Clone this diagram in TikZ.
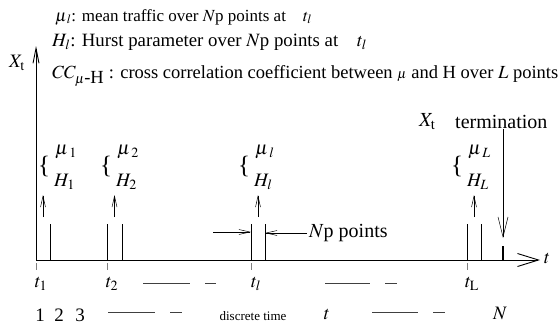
\documentclass[tikz,border=0pt]{standalone}
\usepackage{mathptmx}
\usepackage{fontspec}
\setmainfont{Liberation Serif}
\usetikzlibrary{arrows.meta}

\begin{document}
\begin{tikzpicture}[x=1pt,y=-1pt,
		txt/.style={font=\fontsize{19}{21}\selectfont, inner sep=0pt},
		smalltxt/.style={font=\fontsize{13}{15}\selectfont, inner sep=0pt},
		bigtxt/.style={font=\fontsize{20}{22}\selectfont, inner sep=0pt},
		bar/.style={line width=0.9pt},
		tickmark/.style={gray, line width=0.5pt},
		dashrule/.style={black!75, line width=0.8pt},
		barb/.style={-{Straight Barb[length=11pt,width=5pt]}, line width=0.5pt},
		axis/.style={-{Straight Barb[length=21pt,width=13pt]}, line width=0.9pt}]
	\useasboundingbox (0,0) rectangle (559,324);
	
	% Achsen
	\coordinate (o) at (36,260);
	\coordinate (xend) at (540,260);
	\coordinate (yend) at (36,46);
	\draw[axis] (o) -- (xend);
	\draw[-{Straight Barb[length=15pt,width=6pt]}, line width=0.9pt] (o) -- (yend);
	\node[txt, anchor=west] (tlab) at (544,258) {$t$};
	\node[txt] (xt) at (17,63) {$X_{\mathrm{t}}$};
	
	% Legende
	\node[txt, font=\fontsize{17}{19}\selectfont, anchor=west] (mudef) at (55,17) {$\mu_{\mkern2mu l}$: mean traffic over $N$p points at\quad $t_l$};
	\node[txt, font=\fontsize{18.8}{21}\selectfont, anchor=west] (hdef) at (52,42) {$H_l$: Hurst parameter over $N$p points at\quad $t_l$};
	\node[txt, font=\fontsize{18.5}{21}\selectfont, anchor=west] (ccdef) at (52,76) {$CC_{\mu\textrm{-H}}$ : cross correlation coefficient between $\scriptstyle\mu$ and H over $L$ points};
	
	% Fenster mit je Np Punkten
	\foreach \xa/\xb/\bx/\sub/\tsub in {36/50/44/1/1, 107/122/106/2/2, 251/265/244/l/l, 467/481/457/L/\mathrm{L}} {
		\pgfmathsetmacro{\xm}{(\xa+\xb)/2}
		\draw[bar] (\xa,260) -- (\xa,224);
		\draw[bar] (\xb,260) -- (\xb,224);
		\draw[tickmark] (\xa,263) -- (\xa,270);
		\node[txt] (t\sub) at (\xa+5,284) {$t_{\tsub}$};
		\node[txt, font=\fontsize{25}{27}\selectfont] (br\sub) at (\bx,166) {\{};
		\node[txt, anchor=west] (mu\sub) at (\bx+11,152) {$\mu_{\mkern3.5mu\sub}$};
		\node[txt, anchor=west] (h\sub) at (\bx+10,182) {$H_{\sub}$};
		\coordinate (up\sub) at (\xm,217);
		\coordinate (tip\sub) at (\xm,195);
		\draw[barb] (up\sub) -- (tip\sub);
	}
	
	% Np points
	\coordinate (npstart) at (213,232);
	\coordinate (npl) at (251,232);
	\coordinate (npr) at (265,232);
	\node[bigtxt, anchor=west] (np) at (309,233) {$N$p points};
	\draw[barb] (npstart) -- (npl);
	\draw[barb] ([xshift=-2pt]np.west) -- (np.west -| npr);
	
	% Ende
	\node[bigtxt, anchor=west] (xtt) at (419,122) {$X_{\mathrm{t}}$};
	\node[bigtxt, anchor=west] (term) at (455,122) {termination};
	\coordinate (endbar) at (503,246);
	\coordinate (endtip) at (503,238);
	\draw[line width=2pt] (503,260) -- (endbar);
	\draw[-{Straight Barb[length=20pt,width=10pt]}, line width=0.5pt] (term.south -| endbar) -- (endtip);
	
	% diskrete Zeit
	\node[txt] (n1) at (40,315) {1};
	\node[txt] (n2) at (59,315) {2};
	\node[txt] (n3) at (80,315) {3};
	\node[smalltxt] (dt) at (253,316) {discrete time};
	\node[txt] (tt) at (327,314) {$t$};
	\node[txt] (nn) at (500,313) {$N$};
	\foreach \ya/\yb/\yy in {143/190/283, 205/216/283, 325/370/283, 385/397/283,
		108/155/312, 170/182/312, 372/418/312, 433/445/312}
		\draw[dashrule] (\ya,\yy) -- (\yb,\yy);
\end{tikzpicture}
\end{document}
